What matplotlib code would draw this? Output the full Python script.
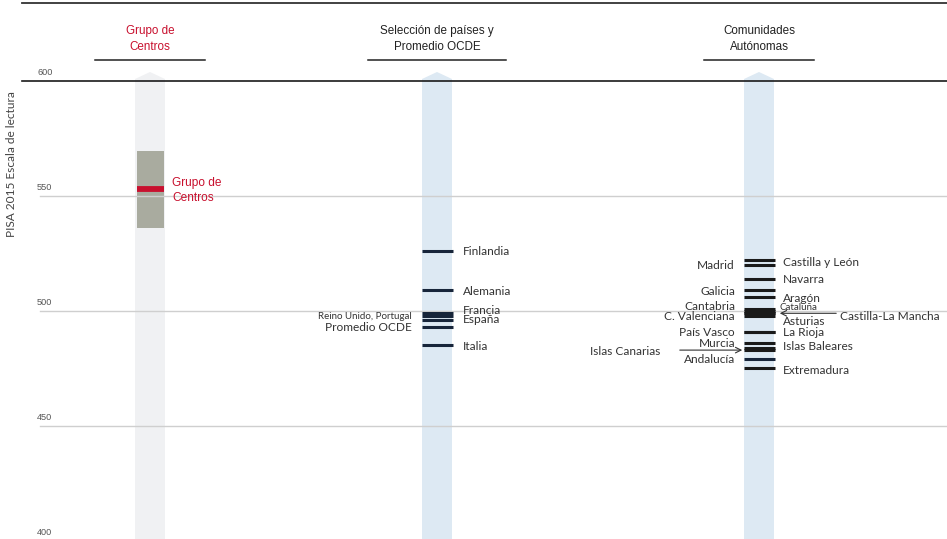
import matplotlib
matplotlib.use("Agg")
import matplotlib.pyplot as plt
from matplotlib.patches import Polygon, Rectangle

# data
group_label = "Grupo de\nCentros"
group_low, group_high, group_mean = 536, 569.5, 553

countries = ["Finlandia", "Alemania", "Francia", "Reino Unido, Portugal",
             "España", "Promedio OCDE", "Italia"]
country_scores = [526, 509, 499, 498, 496, 493, 485]

regions = ["Castilla y León", "Madrid", "Navarra", "Galicia", "Aragón",
           "Cantabria", "Cataluña", "Castilla-La Mancha", "C. Valenciana",
           "Asturias", "País Vasco", "La Rioja", "Islas Baleares", "Murcia",
           "Islas Canarias", "Andalucía", "Extremadura"]
region_scores = [522, 520, 514, 509, 506, 501, 500, 499, 499, 498,
                 491, 491, 486, 484, 483, 479, 475]

headers = ["Grupo de\nCentros", "Selección de países y\nPromedio OCDE",
           "Comunidades\nAutónomas"]
yticks = [400, 450, 500, 550, 600]
ylabel = "PISA 2015 Escala de lectura"

# label layout: side, y of text, font size
country_lab = {
    "Finlandia": ("R", 526, 8.6), "Alemania": ("R", 508.5, 8.6),
    "Francia": ("R", 500.2, 8.6), "España": ("R", 496.2, 8.6),
    "Reino Unido, Portugal": ("L", 497.5, 7.0), "Promedio OCDE": ("L", 492.8, 8.6),
    "Italia": ("R", 484.7, 8.6),
}
region_lab = {
    "Castilla y León": ("R", 521.3, 8.6), "Madrid": ("L", 519.6, 8.6),
    "Navarra": ("R", 513.5, 8.6), "Galicia": ("L", 508.3, 8.6),
    "Aragón": ("R", 505.6, 8.6), "Cantabria": ("L", 501.9, 8.6),
    "Cataluña": ("C", 501.4, 7.0), "Castilla-La Mancha": ("M", 497.6, 8.6),
    "C. Valenciana": ("L", 497.4, 8.6), "Asturias": ("R", 495.3, 8.6),
    "País Vasco": ("L", 490.6, 8.6), "La Rioja": ("R", 490.6, 8.6),
    "Islas Baleares": ("R", 484.6, 8.6), "Murcia": ("L", 485.8, 8.6),
    "Islas Canarias": ("X", 482.6, 8.6), "Andalucía": ("L", 478.8, 8.6),
    "Extremadura": ("R", 474.3, 8.6),
}

W, H = 947, 539
px = 2.3  # pixels per score point
ytop = 600 + 81 / px
ybot = 600 - (H - 81) / px

fig = plt.figure(figsize=(W / 100, H / 100), dpi=100)
ax = fig.add_axes([0, 0, 1, 1])
ax.set_xlim(0, W)
ax.set_ylim(ybot, ytop)
ax.axis("off")

lab_font = "Lato"
head_font = "Liberation Sans"
red = "#c8102e"
navy = "#17253a"


def column(xc, color):
    half = 15
    tip = 600 + 9 / px
    shoulder = 600 + 2 / px
    poly = Polygon([(xc - half, ybot), (xc - half, shoulder), (xc, tip),
                    (xc + half, shoulder), (xc + half, ybot)],
                   closed=True, fc=color, ec="none", zorder=1)
    ax.add_patch(poly)


col_x = [150, 437, 759]
column(col_x[0], "#f0f1f3")
column(col_x[1], "#dde9f3")
column(col_x[2], "#dde9f3")

# grid and axis labels
for v in yticks:
    if v == 600:
        ax.plot([22, W], [v, v], color="#1a1a1a", lw=1.2, zorder=3)
    elif v > ybot:
        ax.plot([40, W], [v, v], color="#cfcfcf", lw=1.0, zorder=3)
    ax.text(37, v + 1.8, str(v), fontsize=6.6, color="#555555",
            family=head_font, ha="left", va="bottom")
ax.plot([22, W], [ytop - 3 / px, ytop - 3 / px], color="#333333", lw=1.3)
ax.text(12, 564, ylabel, rotation=90, fontsize=8.6, color="#444444",
        family=lab_font, ha="center", va="center")

# headers
head_w = [110, 138, 110]
for i, h in enumerate(headers):
    ax.text(col_x[i], ytop - 39 / px, h, ha="center", va="center",
            fontsize=8.4, family=head_font, linespacing=1.55,
            color=red if i == 0 else "#222222")
    y = ytop - 60 / px
    ax.plot([col_x[i] - head_w[i] / 2, col_x[i] + head_w[i] / 2], [y, y],
            color="#222222", lw=1.1)

# group column
ax.add_patch(Rectangle((col_x[0] - 13, group_low), 27, group_high - group_low,
                       fc="#a9ab9f", ec="none", zorder=2))
ax.plot([col_x[0] - 13, col_x[0] + 14], [group_mean, group_mean],
        color=red, lw=4.2, solid_capstyle="butt", zorder=4)
ax.text(172, group_mean - 0.5, group_label, color=red, fontsize=8.6,
        family=head_font, ha="left", va="center", linespacing=1.3)

# countries
for name, s in zip(countries, country_scores):
    ax.plot([col_x[1] - 15, col_x[1] + 16], [s, s], color=navy, lw=2.2,
            solid_capstyle="butt", zorder=4)
    side, ty, fs = country_lab[name]
    if side == "R":
        ax.text(463, ty, name, ha="left", va="center", fontsize=fs,
                family=lab_font, color="#333333", zorder=5)
    else:
        ax.text(412, ty, name, ha="right", va="center", fontsize=fs,
                family=lab_font, color="#333333", zorder=5)

# regions
for name, s in zip(regions, region_scores):
    c = navy if name == "Andalucía" else "#1a1a1a"
    ax.plot([col_x[2] - 15, col_x[2] + 16], [s, s], color=c, lw=2.2,
            solid_capstyle="butt", zorder=4)
    side, ty, fs = region_lab[name]
    kw = dict(va="center", fontsize=fs, family=lab_font, color="#333333",
              zorder=5)
    if side == "R":
        ax.text(783, ty, name, ha="left", **kw)
    elif side == "L":
        ax.text(735, ty, name, ha="right", **kw)
    elif side == "C":
        ax.text(779, ty, name, ha="left", **kw)
    elif side == "M":
        ax.text(840, ty, name, ha="left", **kw)
        ax.annotate("", xy=(777, s), xytext=(839, s),
                    arrowprops=dict(arrowstyle="->", color="#333333", lw=0.8),
                    zorder=5)
    elif side == "X":
        ax.text(660, ty, name, ha="right", **kw)
        ax.annotate("", xy=(745, s), xytext=(677, s),
                    arrowprops=dict(arrowstyle="->", color="#333333", lw=0.8),
                    zorder=5)

fig.savefig("out.png", dpi=100)
